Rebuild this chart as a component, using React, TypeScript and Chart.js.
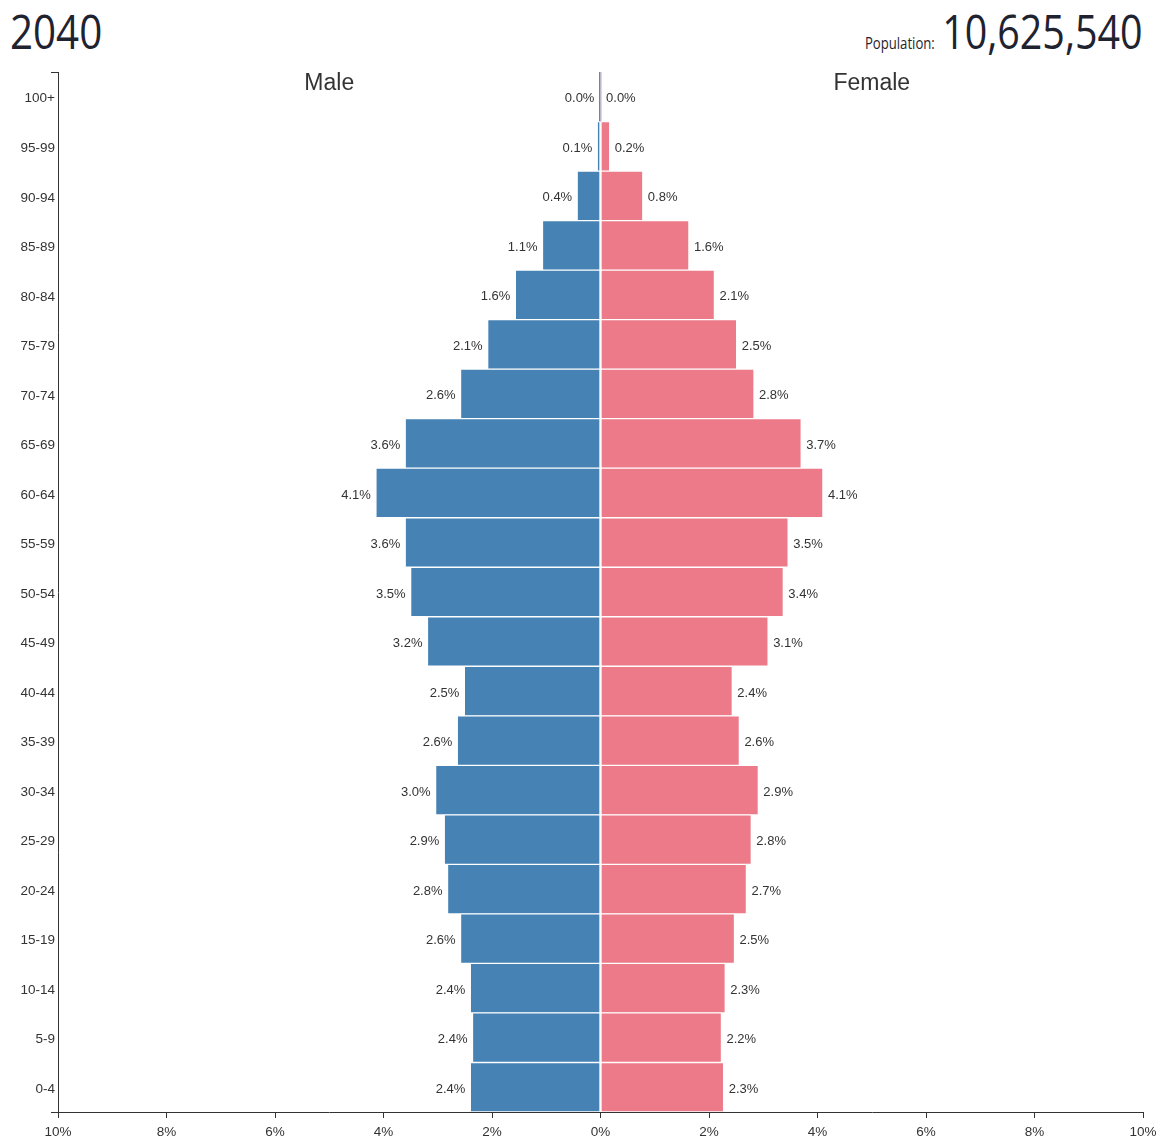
import React, { useEffect, useRef } from "react";
import { Chart, registerables } from "chart.js";

Chart.register(...registerables);

const yearLabel = "2040";
const populationLabel = "Population:";
const populationValue = "10,625,540";
const maleLabel = "Male";
const femaleLabel = "Female";

const ageGroups = [
  "100+", "95-99", "90-94", "85-89", "80-84", "75-79", "70-74", "65-69", "60-64", "55-59", "50-54",
  "45-49", "40-44", "35-39", "30-34", "25-29", "20-24", "15-19", "10-14", "5-9", "0-4",
];
const malePct = [0.02, 0.06, 0.43, 1.07, 1.57, 2.08, 2.58, 3.6, 4.14, 3.6, 3.5, 3.19, 2.51, 2.64, 3.04, 2.88, 2.82, 2.58, 2.4, 2.36, 2.4];
const femalePct = [0.01, 0.17, 0.78, 1.63, 2.1, 2.51, 2.83, 3.7, 4.1, 3.46, 3.37, 3.09, 2.43, 2.56, 2.91, 2.78, 2.69, 2.47, 2.3, 2.23, 2.27];
const xMin = -10;
const xMax = 10;
const xStep = 2;

const MALE_COLOR = "#4682B4";
const FEMALE_COLOR = "#EC7A88";
const TEXT_COLOR = "#333333";
const FONT = "'Liberation Sans', Arial, sans-serif";

const decorPlugin = {
  id: "pyramidDecor",
  afterDraw(chart: any) {
    const { ctx, chartArea, scales } = chart;
    const x = scales.x;
    ctx.save();
    ctx.strokeStyle = TEXT_COLOR;
    ctx.lineWidth = 1;
    ctx.beginPath();
    ctx.moveTo(chartArea.left - 7, Math.round(chartArea.top) + 0.5);
    ctx.lineTo(chartArea.left, Math.round(chartArea.top) + 0.5);
    ctx.moveTo(chartArea.left - 7, Math.round(chartArea.bottom) + 0.5);
    ctx.lineTo(chartArea.left, Math.round(chartArea.bottom) + 0.5);
    ctx.stroke();
    ctx.fillStyle = TEXT_COLOR;
    ctx.font = `23px ${FONT}`;
    ctx.textAlign = "center";
    ctx.textBaseline = "alphabetic";
    ctx.fillText(maleLabel, x.getPixelForValue(-5), chartArea.top + 18);
    ctx.fillText(femaleLabel, x.getPixelForValue(5), chartArea.top + 18);
    ctx.font = `13px ${FONT}`;
    ctx.textBaseline = "middle";
    chart.data.datasets.forEach((ds: any, di: number) => {
      const meta = chart.getDatasetMeta(di);
      meta.data.forEach((bar: any, i: number) => {
        const v = Math.abs(ds.data[i]);
        const txt = v.toFixed(1) + "%";
        if (di === 0) {
          ctx.textAlign = "right";
          ctx.fillText(txt, Math.min(bar.x, x.getPixelForValue(0)) - 5, bar.y + 2);
        } else {
          ctx.textAlign = "left";
          ctx.fillText(txt, Math.max(bar.x, x.getPixelForValue(0)) + 5, bar.y + 2);
        }
      });
    });
    ctx.restore();
  },
};

export default function App() {
  const ref = useRef<HTMLCanvasElement | null>(null);

  useEffect(() => {
    if (!ref.current) return;
    const chart = new Chart(ref.current, {
      type: "bar",
      data: {
        labels: ageGroups,
        datasets: [
          {
            label: maleLabel,
            data: malePct.map((v) => -v),
            backgroundColor: MALE_COLOR,
            borderColor: "#ffffff",
            borderWidth: (c: any) => (Math.abs(c.raw) < 0.05 ? 0 : 1),
            borderSkipped: false,
            categoryPercentage: 1,
            barPercentage: 1,
          },
          {
            label: femaleLabel,
            data: femalePct,
            backgroundColor: FEMALE_COLOR,
            borderColor: "#ffffff",
            borderWidth: (c: any) => (Math.abs(c.raw) < 0.05 ? 0 : 1),
            borderSkipped: false,
            categoryPercentage: 1,
            barPercentage: 1,
          },
        ],
      },
      options: {
        indexAxis: "y",
        responsive: false,
        animation: false,
        layout: { padding: { left: 8, right: 17, top: 72, bottom: 0 } },
        plugins: { legend: { display: false }, tooltip: { enabled: false }, title: { display: false } },
        scales: {
          x: {
            type: "linear",
            stacked: true,
            min: xMin,
            max: xMax,
            afterFit: (s: any) => {
              s.height = 26;
              s.paddingLeft = 0;
              s.paddingRight = 0;
            },
            ticks: {
              stepSize: xStep,
              color: TEXT_COLOR,
              font: { family: FONT, size: 13.5 },
              padding: 6,
              maxRotation: 0,
              callback: (v: any) => Math.abs(Number(v)) + "%",
            },
            grid: { display: true, drawOnChartArea: false, drawTicks: true, tickLength: 6, color: TEXT_COLOR },
            border: { display: true, color: TEXT_COLOR, width: 1 },
          },
          y: {
            type: "category",
            stacked: true,
            afterFit: (s: any) => {
              s.width = 50;
            },
            ticks: { color: TEXT_COLOR, font: { family: FONT, size: 13.5 }, padding: 3, autoSkip: false, labelOffset: 2 },
            grid: { display: false, drawTicks: false },
            border: { display: true, color: TEXT_COLOR, width: 1 },
          },
        },
      },
      plugins: [decorPlugin],
    } as any);
    return () => chart.destroy();
  }, []);

  return (
    <div style={{ position: "absolute", left: 0, top: 0, width: 1160, height: 1138, background: "#fff" }}>
      <div
        style={{
          position: "absolute",
          left: 10,
          top: 7,
          fontFamily: "'Open Sans', sans-serif",
          fontSize: 48,
          lineHeight: "48px",
          color: "#1f2330",
          transform: "scaleX(0.84)",
          transformOrigin: "left center",
          whiteSpace: "nowrap",
        }}
      >
        {yearLabel}
      </div>
      <div
        style={{
          position: "absolute",
          right: 17,
          top: 7,
          fontFamily: "'Open Sans', sans-serif",
          color: "#1f2330",
          transform: "scaleX(0.82)",
          transformOrigin: "right center",
          whiteSpace: "nowrap",
          display: "flex",
          alignItems: "baseline",
        }}
      >
        <span style={{ fontSize: 16, marginRight: 9 }}>{populationLabel}</span>
        <span style={{ fontSize: 48, lineHeight: "48px" }}>{populationValue}</span>
      </div>
      <canvas ref={ref} width={1160} height={1138} style={{ position: "absolute", left: 0, top: 0, display: "block" }} />
    </div>
  );
}
